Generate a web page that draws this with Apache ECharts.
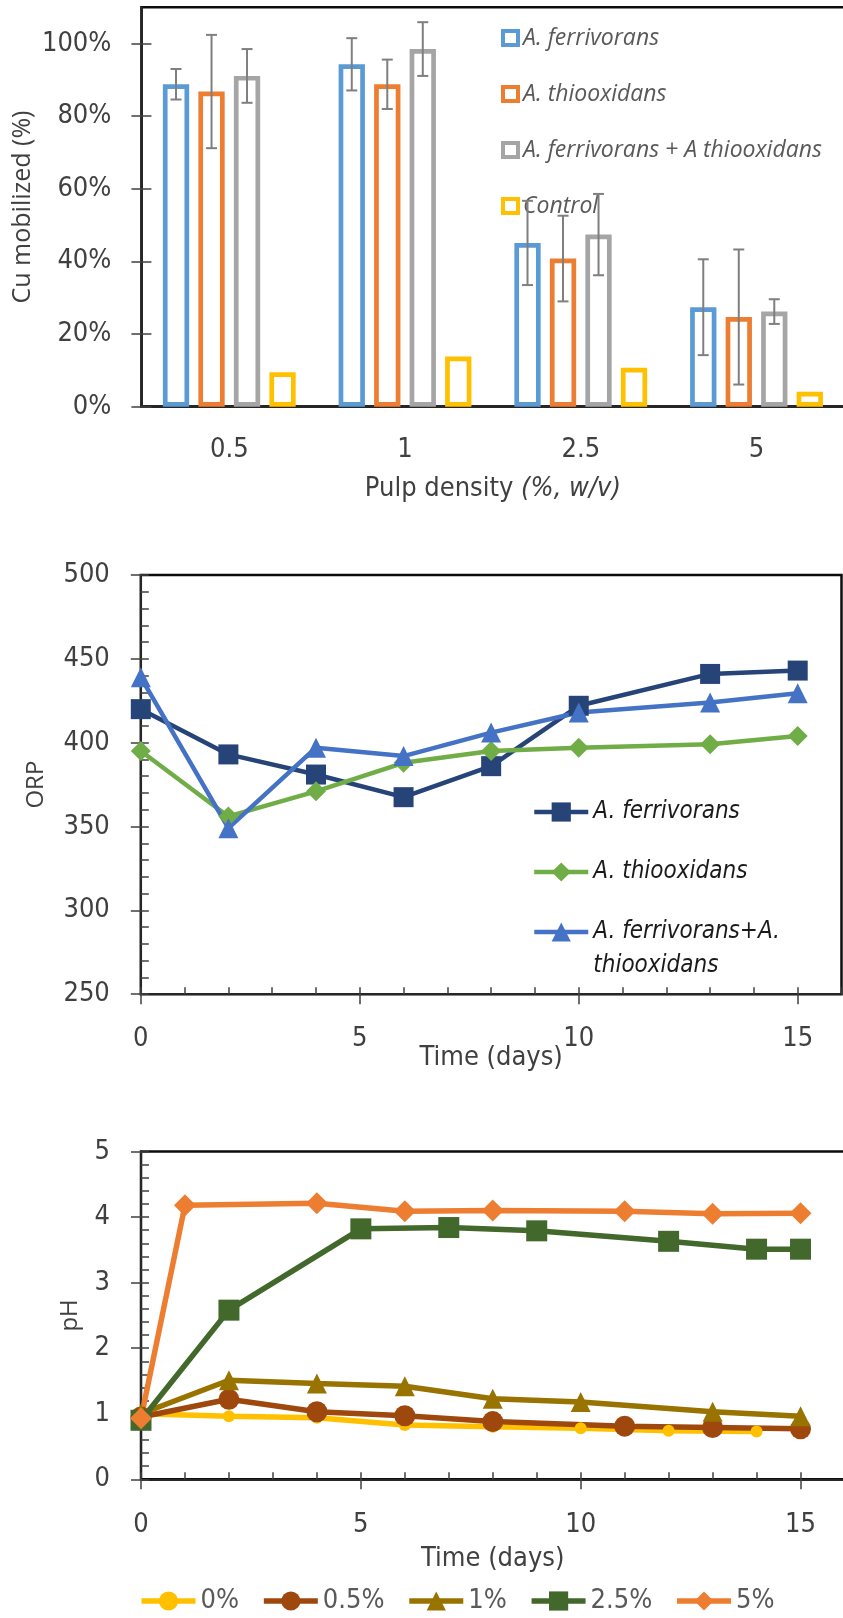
<!DOCTYPE html>
<html>
<head>
<meta charset="utf-8">
<script src="https://cdn.jsdelivr.net/npm/echarts@6.0.0/dist/echarts.min.js"></script>
<style>
  html, body { margin: 0; padding: 0; background: #fff; }
  #chart { width: 843px; height: 1618px; }
</style>
</head>
<body>
<div id="chart"></div>
<script>
// ---- Cu mobilized vs pulp density (bars + error bars)
const pulpDensity = ['0.5', '1', '2.5', '5']
const cuFerri = [88.8, 94.3, 45.1, 27.4]
const cuThio = [86.8, 88.8, 40.8, 24.7]
const cuMix = [91.1, 98.5, 47.4, 26.2]
const cuControl = [9.5, 13.8, 10.7, 4.1]
const errFerri = [4.2, 7.2, 11.6, 13.2]
const errThio = [15.6, 6.8, 11.8, 18.6]
const errMix = [7.4, 7.4, 11.2, 3.4]
const cuTicks = [0, 20, 40, 60, 80, 100]

// ---- ORP over time
const orpDays = [0, 2, 4, 6, 8, 10, 13, 15]
const orpFerri = [420, 393, 381, 367.5, 386, 422, 441, 443]
const orpThio = [395, 356, 371, 388, 395, 397, 399, 404]
const orpMix = [439, 349, 397, 392, 406, 418, 424, 429.5]
const orpTicks = [250, 300, 350, 400, 450, 500]

// ---- pH over time, one series per pulp density
const ph0Days = [0, 2, 4, 6, 8, 10, 12, 14]
const ph0 = [1.0, 0.96, 0.94, 0.83, 0.8, 0.78, 0.74, 0.73]
const ph05Days = [0, 2, 4, 6, 8, 11, 13, 15]
const ph05 = [0.95, 1.22, 1.03, 0.97, 0.88, 0.81, 0.79, 0.77]
const ph1Days = [0, 2, 4, 6, 8, 10, 13, 15]
const ph1 = [1.0, 1.51, 1.46, 1.42, 1.23, 1.18, 1.03, 0.96]
const ph25Days = [0, 2, 5, 7, 9, 12, 14, 15]
const ph25 = [0.9, 2.58, 3.82, 3.84, 3.79, 3.63, 3.51, 3.51]
const ph5Days = [0, 1, 4, 6, 8, 11, 13, 15]
const ph5 = [0.93, 4.18, 4.21, 4.09, 4.1, 4.09, 4.05, 4.06]
const phTicks = [0, 1, 2, 3, 4, 5]
const dayTicks = [0, 5, 10, 15]

const AXIS = '#262626'
const TICK = '#404040'
const LABEL = '#404040'
const COND = '"DejaVu Sans Condensed", "Liberation Sans Narrow", "Roboto Condensed", sans-serif'
const OPEN = '"Open Sans", sans-serif'
const BAR_W = 26.3
const BAR_GAP = '35%'

// major axis: labels + ticks pointing out
function majorAxis(grid, pos, min, max, interval, ticks, extra) {
  return Object.assign({
    type: 'value', gridIndex: grid, position: pos, min, max, interval,
    nameMoveOverlap: false,
    splitLine: { show: false },
    axisLine: { show: true, lineStyle: { color: AXIS, width: 2 } },
    axisTick: { show: true, inside: false, length: 10, customValues: ticks, lineStyle: { color: TICK, width: 1.5 } },
    axisLabel: { customValues: ticks, color: LABEL, fontFamily: COND, fontSize: 27 }
  }, extra)
}
// helper axis only for the inside (minor) ticks
function tickAxis(grid, pos, min, max, interval, len, ticks) {
  return {
    type: 'value', gridIndex: grid, position: pos, min, max, interval,
    splitLine: { show: false },
    axisLine: { show: false },
    axisLabel: { show: false },
    axisTick: { show: true, inside: true, length: len, customValues: ticks, lineStyle: { color: TICK, width: 1.5 } }
  }
}

function barSeries(name, data, color) {
  return {
    name, type: 'bar', xAxisIndex: 0, yAxisIndex: 0, data,
    barWidth: BAR_W, barGap: BAR_GAP,
    itemStyle: { color: '#ffffff', borderColor: color, borderWidth: 4.7 }
  }
}

function lineSeries(name, xs, ys, color, symbol, size, xi, yi, width) {
  return {
    name, type: 'line', xAxisIndex: xi, yAxisIndex: yi,
    data: xs.map((x, i) => [x, ys[i]]),
    symbol, symbolSize: size, showSymbol: true,
    lineStyle: { color, width },
    itemStyle: { color }
  }
}

const errorData = []
;[[cuFerri, errFerri], [cuThio, errThio], [cuMix, errMix]].forEach(([vals, errs], s) => {
  vals.forEach((v, i) => errorData.push([i, s, v - errs[i], v + errs[i]]))
})

// ORP legend entries (names differ from the bar series by a trailing space)
const orpNames = ['A. ferrivorans ', 'A. thiooxidans ', 'A. ferrivorans+A. thiooxidans']
const orpLegendText = { fontFamily: COND, fontStyle: 'italic', fontSize: 24, color: '#1a1a1a', lineHeight: 24 }

const chart = echarts.init(document.getElementById('chart'))
chart.setOption({
  animation: false,
  backgroundColor: '#fff',
  grid: [
    { left: 141.4, top: 7.3, width: 703, height: 399.4, show: true, borderColor: '#0d0d0d', borderWidth: 2.5, outerBoundsMode: 'none' },
    { left: 140.8, top: 575, width: 700.7, height: 419.2, show: true, borderColor: '#0d0d0d', borderWidth: 2.5, outerBoundsMode: 'none' },
    { left: 141, top: 1151.5, width: 703.5, height: 327.8, show: true, borderColor: '#0d0d0d', borderWidth: 2.5, outerBoundsMode: 'none' }
  ],
  xAxis: [
    {
      type: 'category', gridIndex: 0, position: 'bottom', data: pulpDensity,
      nameMoveOverlap: false,
      axisLine: { show: true, lineStyle: { color: AXIS, width: 3 } },
      axisTick: { show: false },
      axisLabel: { color: LABEL, fontFamily: COND, fontSize: 27, margin: 30 },
      name: 'Pulp density {i|(%, w/v)}', nameLocation: 'middle', nameGap: 69,
      nameTextStyle: {
        color: LABEL, fontFamily: COND, fontSize: 27,
        rich: { i: { color: LABEL, fontFamily: COND, fontSize: 27, fontStyle: 'italic' } }
      }
    },
    majorAxis(1, 'bottom', 0, 16, 5, dayTicks, {
      axisLabel: { customValues: dayTicks, color: LABEL, fontFamily: COND, fontSize: 27, margin: 31 },
      name: 'Time (days)', nameLocation: 'middle', nameGap: 50,
      nameTextStyle: { color: LABEL, fontFamily: COND, fontSize: 27 }
    }),
    tickAxis(1, 'bottom', 0, 16, 1, 7),
    majorAxis(2, 'bottom', 0, 16, 5, dayTicks, {
      axisLabel: { customValues: dayTicks, color: LABEL, fontFamily: COND, fontSize: 27, margin: 32 },
      name: 'Time (days)', nameLocation: 'middle', nameGap: 66,
      nameTextStyle: { color: LABEL, fontFamily: COND, fontSize: 27 }
    }),
    tickAxis(2, 'bottom', 0, 16, 1, 7)
  ],
  yAxis: [
    majorAxis(0, 'left', 0, 110, 20, cuTicks, {
      axisLabel: { customValues: cuTicks, color: LABEL, fontFamily: COND, fontSize: 27, margin: 30, formatter: v => v + '%' },
      name: 'Cu mobilized (%)', nameLocation: 'middle', nameGap: 106, nameRotate: 90,
      nameTextStyle: { color: LABEL, fontFamily: OPEN, fontSize: 25 }
    }),
    tickAxis(0, 'left', 0, 110, 20, 10, cuTicks),
    majorAxis(1, 'left', 250, 500, 50, orpTicks, {
      axisLabel: { customValues: orpTicks, color: LABEL, fontFamily: COND, fontSize: 27, margin: 31 },
      name: 'ORP', nameLocation: 'middle', nameGap: 93, nameRotate: 90,
      nameTextStyle: { color: LABEL, fontFamily: OPEN, fontSize: 24 }
    }),
    tickAxis(1, 'left', 250, 500, 10, 8),
    majorAxis(2, 'left', 0, 5, 1, phTicks, {
      axisLabel: { customValues: phTicks, color: LABEL, fontFamily: COND, fontSize: 27, margin: 31 },
      name: 'pH', nameLocation: 'middle', nameGap: 59, nameRotate: 90,
      nameTextStyle: { color: LABEL, fontFamily: OPEN, fontSize: 24 }
    }),
    tickAxis(2, 'left', 0, 5, 0.2, 8)
  ],
  legend: [
    {
      orient: 'vertical', left: 501, top: 26, padding: 0, icon: 'rect',
      itemWidth: 15, itemHeight: 14, itemGap: 32, selectedMode: false,
      itemStyle: { borderWidth: 4 },
      textStyle: { fontFamily: OPEN, fontStyle: 'italic', fontSize: 23, color: '#595959', lineHeight: 24 },
      data: ['A. ferrivorans', 'A. thiooxidans', 'A. ferrivorans + A thiooxidans', 'Control']
    },
    {
      left: 532, top: 800, padding: 0, itemWidth: 54, itemHeight: 24, selectedMode: false,
      lineStyle: { width: 4.5 }, textStyle: orpLegendText,
      formatter: n => n.trim(),
      data: [orpNames[0]]
    },
    {
      left: 532, top: 860, padding: 0, itemWidth: 54, itemHeight: 24, selectedMode: false,
      lineStyle: { width: 4.5 }, textStyle: orpLegendText,
      formatter: n => n.trim(),
      data: [orpNames[1]]
    },
    {
      // blank first line so that the first text line sits on the icon
      left: 532, top: 881, padding: 0, itemWidth: 54, itemHeight: 24, selectedMode: false,
      lineStyle: { width: 4.5 },
      formatter: () => ' \nA. ferrivorans+A.\nthiooxidans',
      textStyle: Object.assign({}, orpLegendText, { lineHeight: 34 }),
      data: [orpNames[2]]
    },
    {
      orient: 'horizontal', left: 138.8, top: 1586, padding: 0, itemWidth: 54, itemHeight: 24, itemGap: 22, selectedMode: false,
      lineStyle: { width: 5.5 },
      textStyle: { fontFamily: COND, fontSize: 27, color: '#595959', lineHeight: 30 },
      data: ['0%', '0.5%', '1%', '2.5%', '5%']
    }
  ],
  series: [
    barSeries('A. ferrivorans', cuFerri, '#5b9bd5'),
    barSeries('A. thiooxidans', cuThio, '#ed7d31'),
    barSeries('A. ferrivorans + A thiooxidans', cuMix, '#a5a5a5'),
    barSeries('Control', cuControl, '#ffc000'),
    {
      type: 'custom', xAxisIndex: 0, yAxisIndex: 0, z: 10, silent: true,
      encode: { x: 0, y: [2, 3] },
      data: errorData,
      renderItem(params, api) {
        const layout = api.barLayout({ count: 4, barWidth: BAR_W, barGap: BAR_GAP })
        const off = layout[api.value(1)].offsetCenter
        const lo = api.coord([api.value(0), api.value(2)])
        const hi = api.coord([api.value(0), api.value(3)])
        const x = lo[0] + off
        const st = { stroke: '#7f7f7f', lineWidth: 2 }
        return {
          type: 'group',
          children: [
            { type: 'line', shape: { x1: x, y1: lo[1], x2: x, y2: hi[1] }, style: st },
            { type: 'line', shape: { x1: x - 5.5, y1: lo[1], x2: x + 5.5, y2: lo[1] }, style: st },
            { type: 'line', shape: { x1: x - 5.5, y1: hi[1], x2: x + 5.5, y2: hi[1] }, style: st }
          ]
        }
      }
    },
    lineSeries(orpNames[0], orpDays, orpFerri, '#264478', 'rect', 20, 1, 2, 4.5),
    lineSeries(orpNames[1], orpDays, orpThio, '#70ad47', 'diamond', 20, 1, 2, 4.5),
    lineSeries(orpNames[2], orpDays, orpMix, '#4472c4', 'triangle', 20, 1, 2, 4.5),
    lineSeries('0%', ph0Days, ph0, '#ffc000', 'circle', 12, 3, 4, 5.5),
    lineSeries('0.5%', ph05Days, ph05, '#9e480e', 'circle', 21, 3, 4, 5.5),
    lineSeries('1%', ph1Days, ph1, '#997300', 'triangle', 20, 3, 4, 5.5),
    lineSeries('2.5%', ph25Days, ph25, '#43682b', 'rect', 21, 3, 4, 5.5),
    lineSeries('5%', ph5Days, ph5, '#ed7d31', 'diamond', 22, 3, 4, 5.5)
  ]
})
</script>
</body>
</html>
